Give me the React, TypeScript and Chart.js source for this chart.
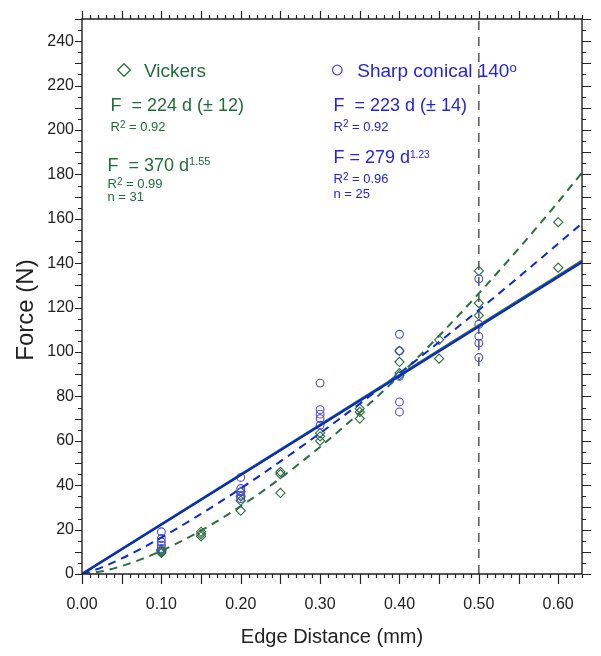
import React, { useEffect, useRef } from 'react';
import { Chart, registerables } from 'chart.js';

Chart.register(...registerables);

const FONT = '"Liberation Sans", Arial, Helvetica, sans-serif';

// Axis settings
const X_MIN = 0;
const X_MAX = 0.63;
const Y_MIN = 0;
const Y_MAX = 250;
const X_TICKS = [0, 0.1, 0.2, 0.3, 0.4, 0.5, 0.6];
const Y_TICKS = [0, 20, 40, 60, 80, 100, 120, 140, 160, 180, 200, 220, 240];
const Y_TITLE = 'Force (N)';
const X_TITLE = 'Edge Distance (mm)';

// Vickers measurements (diamonds)
const VICKERS_D = [
  0.1, 0.1, 0.1, 0.1,
  0.15, 0.15, 0.15,
  0.2, 0.2, 0.2, 0.2,
  0.25, 0.25, 0.25,
  0.3, 0.3, 0.3,
  0.35, 0.35, 0.35,
  0.4, 0.4, 0.4, 0.4,
  0.45, 0.45,
  0.5, 0.5, 0.5,
  0.6, 0.6,
];
const VICKERS_F = [
  9.5, 10, 10.5, 11,
  17, 18, 19,
  28.5, 33, 35, 37,
  36.5, 45, 46,
  60, 62, 63.5,
  70, 73, 74.5,
  89.5, 90.5, 95.5, 100.5,
  97, 105.5,
  116.5, 122, 136.5,
  138, 158.5,
];

// Sharp conical 140 measurements (circles)
const CONICAL_D = [
  0.1, 0.1, 0.1, 0.1, 0.1,
  0.2, 0.2, 0.2, 0.2, 0.2,
  0.3, 0.3, 0.3, 0.3, 0.3,
  0.4, 0.4, 0.4, 0.4, 0.4,
  0.5, 0.5, 0.5, 0.5, 0.5,
];
const CONICAL_F = [
  11.5, 13, 14.5, 16, 19,
  34, 35.5, 37, 38.5, 43.5,
  67, 70, 72, 74, 86,
  73, 77.5, 89, 100.5, 108,
  97.5, 104, 107, 112.5, 133,
];

// Fit curves
const LINEAR_D = [0, 0.63];
const VICKERS_LINEAR_F = [0, 141.1];
const CONICAL_LINEAR_F = [0, 140.5];

const POWER_D = [0, 0.025, 0.05, 0.075, 0.1, 0.15, 0.2, 0.25, 0.3, 0.35, 0.4, 0.45, 0.5, 0.55, 0.6, 0.63];
const VICKERS_POWER_F = [0, 1.22, 3.56, 6.68, 10.43, 19.55, 30.54, 43.15, 57.25, 72.7, 89.41, 107.3, 126.4, 146.5, 167.6, 180.8];
const CONICAL_POWER_F = [0, 2.99, 7.01, 11.53, 16.43, 27.05, 38.54, 50.71, 63.45, 76.71, 90.39, 104.5, 118.9, 133.7, 148.8, 158.0];

const REF_D = [0.5, 0.5];
const REF_F = [0, 250];

const GREEN = '#1f6e3a';
const GREEN_MARK = '#2d6e40';
const BLUE_TEXT = '#2424dc';
const BLUE_LINE = '#0a28d2';
const BLUE_MARK = '#4c4cdc';
const AXIS = '#222222';

const pts = (xs: number[], ys: number[]) => xs.map((x, i) => ({ x, y: ys[i] }));

type Part = { t: string; size: number; raise?: number };

function drawRich(ctx: CanvasRenderingContext2D, x: number, y: number, parts: Part[], color: string) {
  let cx = x;
  ctx.fillStyle = color;
  ctx.textAlign = 'left';
  ctx.textBaseline = 'alphabetic';
  for (const p of parts) {
    ctx.font = `${p.size}px ${FONT}`;
    ctx.fillText(p.t, cx, y - (p.raise || 0));
    cx += ctx.measureText(p.t).width;
  }
}

const framePlugin = {
  id: 'frameAndNotes',
  afterDraw(chart: any) {
    const ctx: CanvasRenderingContext2D = chart.ctx;
    const xs = chart.scales.x;
    const ys = chart.scales.y;
    const { left, right, top, bottom } = chart.chartArea;
    ctx.save();
    // frame
    ctx.strokeStyle = AXIS;
    ctx.lineWidth = 1.4;
    ctx.beginPath();
    ctx.rect(left, top, right - left, bottom - top);
    ctx.stroke();
    // x ticks: every 0.01, long every 0.05
    ctx.lineWidth = 1.2;
    ctx.beginPath();
    for (let i = 0; i <= 63; i++) {
      const px = Math.round(xs.getPixelForValue(i / 100)) + 0.5;
      const major = i % 5 === 0;
      ctx.moveTo(px, bottom);
      ctx.lineTo(px, bottom + (major ? 10 : 4));
      ctx.moveTo(px, top);
      ctx.lineTo(px, top - (major ? 8 : 4));
    }
    // y ticks: every 5, long every 10
    for (let j = 0; j <= 50; j++) {
      const py = Math.round(ys.getPixelForValue(j * 5)) + 0.5;
      const major = j % 2 === 0;
      ctx.moveTo(left, py);
      ctx.lineTo(left - (major ? 7 : 4), py);
      ctx.moveTo(right, py);
      ctx.lineTo(right + (major ? 9 : 4), py);
    }
    ctx.stroke();

    // y axis title
    ctx.save();
    ctx.translate(26, 310);
    ctx.rotate(-Math.PI / 2);
    ctx.fillStyle = AXIS;
    ctx.font = `24px ${FONT}`;
    ctx.textAlign = 'center';
    ctx.textBaseline = 'middle';
    ctx.fillText(Y_TITLE, 0, 0);
    ctx.restore();

    // legend markers
    ctx.lineWidth = 1.3;
    ctx.strokeStyle = GREEN_MARK;
    ctx.beginPath();
    const dx = 124, dy = 70, dr = 6.3;
    ctx.moveTo(dx, dy - dr);
    ctx.lineTo(dx + dr, dy);
    ctx.lineTo(dx, dy + dr);
    ctx.lineTo(dx - dr, dy);
    ctx.closePath();
    ctx.stroke();
    ctx.strokeStyle = BLUE_MARK;
    ctx.beginPath();
    ctx.arc(337.3, 70, 4.8, 0, Math.PI * 2);
    ctx.stroke();

    // Vickers annotations
    drawRich(ctx, 144, 77, [{ t: 'Vickers', size: 19 }], GREEN);
    drawRich(ctx, 110.5, 111, [{ t: 'F  = 224 d (\u00b1 12)', size: 18 }], GREEN);
    drawRich(ctx, 110.5, 131, [{ t: 'R', size: 13 }, { t: '2', size: 10, raise: 3.5 }, { t: ' = 0.92', size: 13 }], GREEN);
    drawRich(ctx, 107.5, 171, [{ t: 'F  = 370 d', size: 18 }, { t: '1.55', size: 11, raise: 6 }], GREEN);
    drawRich(ctx, 107.5, 188, [{ t: 'R', size: 13 }, { t: '2', size: 10, raise: 3.5 }, { t: ' = 0.99', size: 13 }], GREEN);
    drawRich(ctx, 107.5, 201, [{ t: 'n = 31', size: 13 }], GREEN);

    // Conical annotations
    drawRich(ctx, 357.3, 77, [{ t: 'Sharp conical 140', size: 19 }, { t: 'o', size: 13, raise: 5 }], BLUE_TEXT);
    drawRich(ctx, 333.5, 111, [{ t: 'F  = 223 d (\u00b1 14)', size: 18 }], BLUE_TEXT);
    drawRich(ctx, 333.5, 130.5, [{ t: 'R', size: 13 }, { t: '2', size: 10, raise: 3.5 }, { t: ' = 0.92', size: 13 }], BLUE_TEXT);
    drawRich(ctx, 333.5, 162.5, [{ t: 'F = 279 d', size: 18 }, { t: '1.23', size: 10, raise: 5 }], BLUE_TEXT);
    drawRich(ctx, 333.5, 183, [{ t: 'R', size: 13 }, { t: '2', size: 10, raise: 3.5 }, { t: ' = 0.96', size: 13 }], BLUE_TEXT);
    drawRich(ctx, 333.5, 198, [{ t: 'n = 25', size: 13 }], BLUE_TEXT);
    ctx.restore();
  },
};

export default function App() {
  const ref = useRef<HTMLCanvasElement | null>(null);
  useEffect(() => {
    if (!ref.current) return;
    const chart = new Chart(ref.current, {
      type: 'scatter',
      data: {
        datasets: [
          {
            label: 'Conical linear',
            data: pts(LINEAR_D, CONICAL_LINEAR_F),
            showLine: true,
            borderColor: BLUE_LINE,
            borderWidth: 2.2,
            pointRadius: 0,
          },
          {
            label: 'Vickers linear',
            data: pts(LINEAR_D, VICKERS_LINEAR_F),
            showLine: true,
            borderColor: GREEN_MARK,
            borderWidth: 2.6,
            pointRadius: 0,
          },
          {
            label: 'Conical power',
            data: pts(POWER_D, CONICAL_POWER_F),
            showLine: true,
            borderColor: BLUE_LINE,
            borderWidth: 2,
            borderDash: [8, 6],
            pointRadius: 0,
            cubicInterpolationMode: 'monotone',
          },
          {
            label: 'Vickers power',
            data: pts(POWER_D, VICKERS_POWER_F),
            showLine: true,
            borderColor: GREEN_MARK,
            borderWidth: 2,
            borderDash: [8, 6],
            pointRadius: 0,
            cubicInterpolationMode: 'monotone',
          },
          {
            label: 'Conical',
            data: pts(CONICAL_D, CONICAL_F),
            showLine: false,
            pointStyle: 'circle',
            pointRadius: 3.9,
            borderWidth: 1.1,
            borderColor: BLUE_MARK,
            backgroundColor: 'rgba(0,0,0,0)',
          },
          {
            label: 'Vickers',
            data: pts(VICKERS_D, VICKERS_F),
            showLine: false,
            pointStyle: 'rectRot',
            pointRadius: 4.6,
            borderWidth: 1.1,
            borderColor: GREEN_MARK,
            backgroundColor: 'rgba(0,0,0,0)',
          },
          {
            label: 'd = 0.5',
            data: pts(REF_D, REF_F),
            showLine: true,
            borderColor: '#555555',
            borderWidth: 1.5,
            borderDash: [9, 7],
            pointRadius: 0,
          },
        ],
      },
      options: {
        animation: false,
        responsive: false,
        maintainAspectRatio: false,
        layout: { padding: { top: 19, right: 19, left: 0, bottom: 0 } },
        plugins: { legend: { display: false }, tooltip: { enabled: false } },
        scales: {
          x: {
            type: 'linear',
            min: X_MIN,
            max: X_MAX,
            afterBuildTicks: (s: any) => {
              s.ticks = X_TICKS.map((v) => ({ value: v }));
            },
            afterFit: (s: any) => {
              s.height = 82;
            },
            grid: { display: false, drawTicks: false },
            border: { display: false },
            ticks: {
              padding: 21,
              color: AXIS,
              font: { family: FONT, size: 16 },
              maxRotation: 0,
              autoSkip: false,
              callback: (v: any) => Number(v).toFixed(2),
            },
            title: {
              display: true,
              text: X_TITLE,
              color: AXIS,
              font: { family: FONT, size: 20 },
              padding: { top: 0, bottom: 7 },
            },
          },
          y: {
            type: 'linear',
            min: Y_MIN,
            max: Y_MAX,
            afterBuildTicks: (s: any) => {
              s.ticks = Y_TICKS.map((v) => ({ value: v }));
            },
            afterFit: (s: any) => {
              s.width = 82;
            },
            grid: { display: false, drawTicks: false },
            border: { display: false },
            ticks: {
              padding: 8,
              color: AXIS,
              font: { family: FONT, size: 16 },
              autoSkip: false,
            },
            title: { display: false },
          },
        },
      },
      plugins: [framePlugin],
    } as any);
    return () => chart.destroy();
  }, []);
  return (
    <div style={{ position: 'fixed', left: 0, top: 0, width: 601, height: 656, background: '#fff' }}>
      <canvas ref={ref} width={601} height={656} />
    </div>
  );
}
